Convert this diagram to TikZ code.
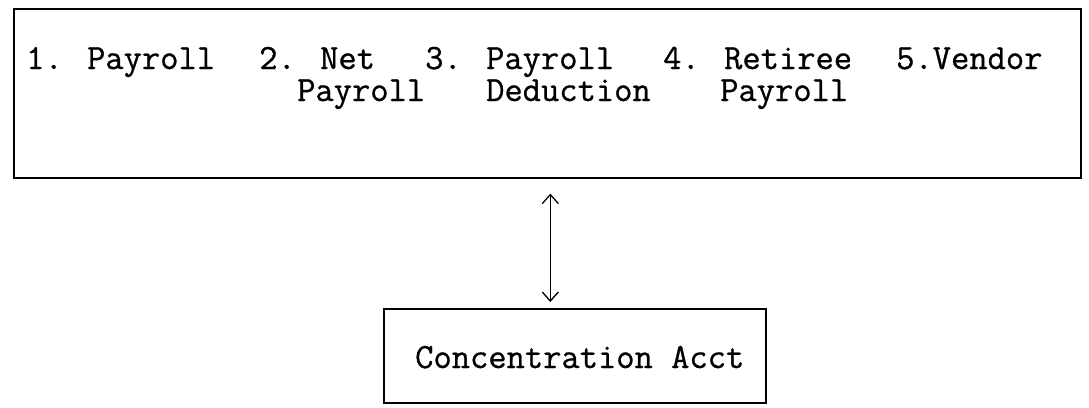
\documentclass[tikz,border=0pt]{standalone}
\usepackage{fontspec}
\newfontfamily\typewriter{Latin Modern Mono}[FakeBold=0.8]
\usetikzlibrary{arrows.meta}

\tikzset{
	box/.style={draw, line width=1.6pt, inner sep=0pt},
	entry/.style={anchor=base west, inner sep=0pt, font=\fontsize{35.5}{36}\typewriter},
	link/.style={{Straight Barb[length=9pt,width=16pt]}-{Straight Barb[length=9pt,width=16pt]}, line width=1.3pt},
}

\begin{document}
\begin{tikzpicture}[x=1pt, y=-1pt]
\useasboundingbox (0,0) rectangle (1089,407);

%% Konten
\node[box, anchor=north west, minimum width=1067pt, minimum height=169pt] (main) at (13,8) {};
\node[entry] (p1) at (26,69) {1. Payroll};
\node[entry] (p2) at (259,69) {2. Net};
\node[entry] (p3) at (425,69) {3. Payroll};
\node[entry] (p4) at (663,69) {4. Retiree};
\node[entry] (p5) at (896,69) {5.Vendor};
\node[entry] (p2b) at (297,101) {Payroll};
\node[entry] (p3b) at (486,101) {Deduction};
\node[entry] (p4b) at (720,101) {Payroll};

%% Sammelkonto
\node[box, anchor=north west, minimum width=382pt, minimum height=94pt] (conc) at (383,308) {};
\node[entry] (acct) at (415,368) {Concentration Acct};

%% Verbindung
\coordinate (up) at ([xshift=3pt]main.south);
\draw[link, shorten <=15pt, shorten >=6pt] (up) -- (up |- conc.north);

\end{tikzpicture}
\end{document}
